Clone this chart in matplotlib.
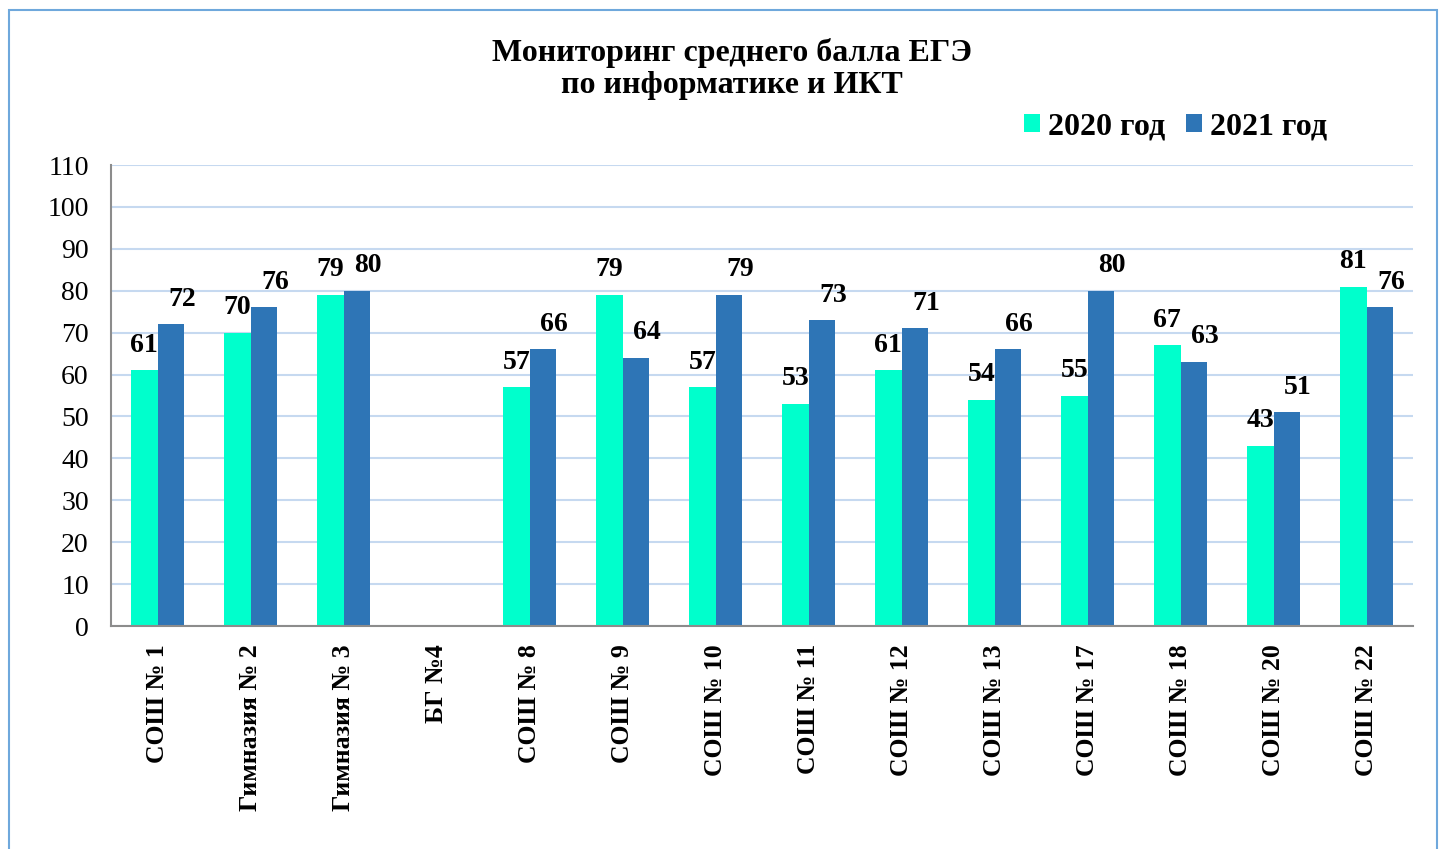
import numpy as np
import matplotlib.pyplot as plt
from matplotlib.patches import Rectangle

# data
schools = ['СОШ № 1', 'Гимназия № 2', 'Гимназия № 3', 'БГ №4', 'СОШ № 8', 'СОШ № 9',
           'СОШ № 10', 'СОШ № 11', 'СОШ № 12', 'СОШ № 13', 'СОШ № 17', 'СОШ № 18',
           'СОШ № 20', 'СОШ № 22']
score_2020 = [61, 70, 79, np.nan, 57, 79, 57, 53, 61, 54, 55, 67, 43, 81]
score_2021 = [72, 76, 80, np.nan, 66, 64, 79, 73, 71, 66, 80, 63, 51, 76]
years = ['2020 год', '2021 год']
colors = ['#00FFCC', '#2E75B6']

plt.rcParams['font.family'] = ['Liberation Serif', 'DejaVu Serif']

fig = plt.figure(figsize=(14.46, 8.49), dpi=100)
ax = fig.add_axes([111 / 1446, 1 - 626 / 849, 1302 / 1446, 461 / 849])

x = np.arange(len(schools))
w = 0.285
b1 = ax.bar(x - w / 2, score_2020, w, color=colors[0], label=years[0], zorder=2)
b2 = ax.bar(x + w / 2, score_2021, w, color=colors[1], label=years[1], zorder=2)

for bars, vals, dx in [(b1, score_2020, 0), (b2, score_2021, 8)]:
    for rect, v in zip(bars, vals):
        if np.isnan(v):
            continue
        ax.annotate(f'{int(v)}', (rect.get_x() + rect.get_width() / 2, v),
                    xytext=(dx, 18), textcoords='offset points', ha='center', va='center',
                    fontsize=20, fontweight='bold')

ax.set_xlim(-0.5, len(schools) - 0.5)
ax.set_ylim(0, 110)
ax.set_yticks(range(0, 111, 10))
ax.tick_params(axis='y', labelsize=20, length=0, pad=16)
ax.set_xticks(x)
ax.set_xticklabels(schools, rotation=90, fontsize=18.5, fontweight='bold', va='top')
ax.tick_params(axis='x', length=0, pad=13)
ax.grid(axis='y', color='#C6D9F0', linewidth=1.5, zorder=0)
for s in ['top', 'right']:
    ax.spines[s].set_visible(False)
for s in ['left', 'bottom']:
    ax.spines[s].set_color('#8C8C8C')
    ax.spines[s].set_linewidth(1.5)

fig.text(0.506, 1 - 69 / 849, 'Мониторинг среднего балла ЕГЭ\nпо информатике и ИКТ',
         ha='center', va='center', fontsize=23, fontweight='bold', linespacing=1.15)

ax.legend(loc='center right', bbox_to_anchor=(1327 / 1446, 1 - 127 / 849),
          bbox_transform=fig.transFigure, ncol=2, frameon=False, handlelength=0.5,
          handleheight=0.5, handletextpad=0.25, columnspacing=0.65, borderpad=0,
          borderaxespad=0, prop={'size': 23, 'weight': 'bold'})

# outer frame of the chart
fig.patches.append(Rectangle((9 / 1446, -0.05), 1428 / 1446, 1 - 10 / 849 + 0.05,
                             transform=fig.transFigure, fill=False,
                             edgecolor='#6FA8DC', linewidth=1.5))

fig.savefig('out.png', dpi=100)
